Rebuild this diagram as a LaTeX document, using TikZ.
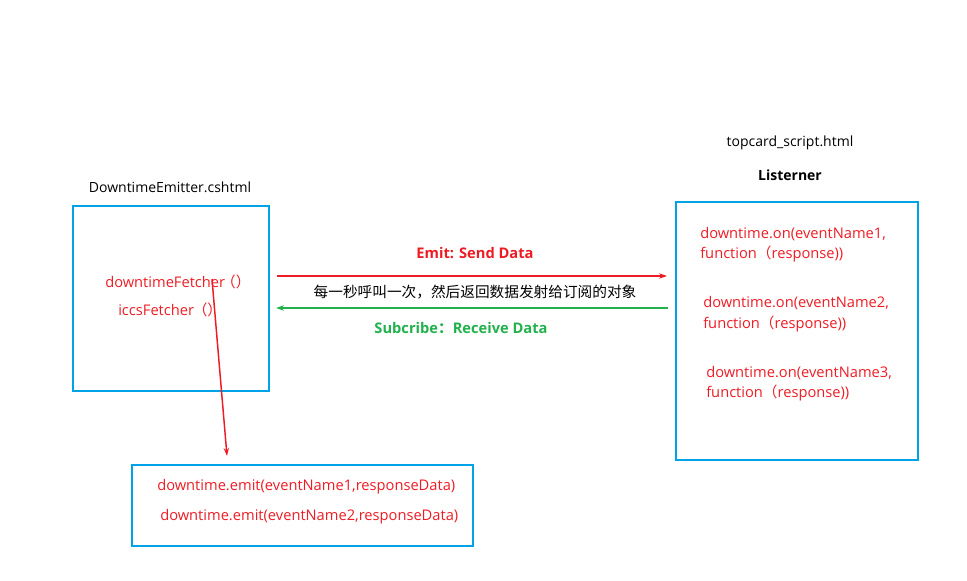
\documentclass[tikz,border=0pt]{standalone}
\usepackage{fontspec}
\setmainfont{Open Sans}
\newfontfamily\cjk{Noto Sans CJK SC}
\usetikzlibrary{arrows.meta}
\definecolor{boxblue}{RGB}{0,162,232}
\definecolor{txtred}{RGB}{237,28,36}
\definecolor{arrgreen}{RGB}{34,177,76}
\begin{document}
\begin{tikzpicture}[x=0.75pt,y=-0.75pt,
  panel/.style={draw=boxblue, line width=1.5pt, inner sep=0pt},
  code/.style={font=\fontsize{11}{13}\selectfont, inner sep=0pt, anchor=west, text=txtred},
  title/.style={font=\fontsize{10.5}{12}\selectfont, inner sep=0pt},
  flowlbl/.style={font=\fontsize{11}{13}\selectfont\bfseries, inner sep=0pt},
  flow/.style={line width=1.1pt, -{Stealth[length=6pt,width=4pt]}}]
\useasboundingbox (0,0) rectangle (967,581);

% boxes
\node[panel, minimum width=147pt, minimum height=138.75pt] (emitter) at (171,298.5) {};
\node[panel, minimum width=181.5pt, minimum height=193.5pt] (listener) at (797,331) {};
\node[panel, minimum width=255.75pt, minimum height=60.75pt] (emitbox) at (302.5,505.5) {};

% titles
\node[title] (t1) at (170,187) {DowntimeEmitter.cshtml};
\node[title] (t2) at (790,143) {topcard\_script.html};
\node[title, font=\fontsize{10.5}{12}\selectfont\bfseries] (t3) at (790,175) {Listerner};

% emitter content
\node[code] (fetch) at (105,282) {downtimeFetcher\kern-3pt{\cjk （）}};
\node[code] (iccs) at (118,310) {iccsFetcher\kern-1pt{\cjk （）}};

% listener content
\node[code] (on1a) at (700,234) {downtime.on(eventName1,};
\node[code] (on1b) at (700,254) {function{\cjk （}response))};
\node[code] (on2a) at (703,303) {downtime.on(eventName2,};
\node[code] (on2b) at (703,324) {function{\cjk （}response))};
\node[code] (on3a) at (706,373) {downtime.on(eventName3,};
\node[code] (on3b) at (706,393) {function{\cjk （}response))};

% emit box content
\node[code] (em1) at (157,487) {downtime.emit(eventName1,responseData)};
\node[code] (em2) at (160,517) {downtime.emit(eventName2,responseData)};

% arrows
\coordinate (sendS) at (277,276);
\coordinate (sendE) at (667,276);
\coordinate (recvS) at (668,308);
\coordinate (recvE) at (276,308);
\draw[flow, draw=txtred] (sendS) -- (sendE);
\draw[flow, draw=arrgreen] (recvS) -- (recvE);

\coordinate (downS) at (212,279);
\coordinate (downE) at (227,456);
\draw[flow, draw=txtred] (downS) -- (downE);

% arrow labels
\node[flowlbl, text=txtred] (lsend) at (475,253) {Emit: Send Data};
\node[title, font=\fontsize{11}{13}\selectfont\cjk] (lcn) at (475,292) {每一秒呼叫一次，然后返回数据发射给订阅的对象};
\node[flowlbl, text=arrgreen] (lrecv) at (461,328) {Subcribe{\cjk\bfseries ：}Receive Data};
\end{tikzpicture}
\end{document}
